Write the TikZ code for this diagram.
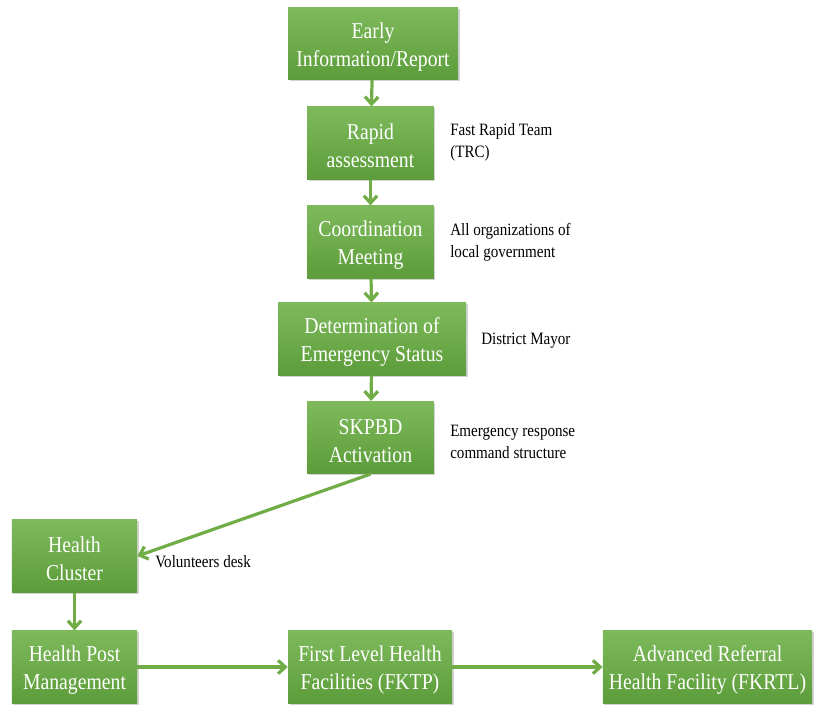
\documentclass[tikz,border=0pt]{standalone}
\usepackage{fontspec}
\setmainfont{Liberation Serif}
\newfontfamily\narrowserif[FakeStretch=0.87]{Liberation Serif}
\usetikzlibrary{arrows.meta,shadows}
\definecolor{boxtop}{HTML}{7EBA5C}
\definecolor{boxbot}{HTML}{5C9C3A}
\definecolor{flowgreen}{HTML}{70AD47}

\begin{document}
\begin{tikzpicture}[x=0.75pt, y=-0.75pt,
    stepbox/.style={draw=none, top color=boxtop, bottom color=boxbot,
        text=white, align=center, minimum height=54.5pt, inner sep=1pt,
        font=\narrowserif\fontsize{17}{21}\selectfont,
        execute at begin node={\rule{0pt}{37.5pt}},
        drop shadow={shadow xshift=1.2pt, shadow yshift=-1.2pt, opacity=0.35}},
    note/.style={anchor=west, align=left, inner sep=0pt,
        font=\narrowserif\fontsize{13}{16.5}\selectfont},
    flow/.style={draw=flowgreen, line width=2.4pt,
        -{Straight Barb[length=5.5pt, width=10pt]}}]
    \useasboundingbox (0,0) rectangle (814,704);

    % main column
    \node[stepbox, minimum width=127.5pt] (early) at (373,43.5) {Early\\Information/Report};
    \node[stepbox, minimum width=95pt] (rapid) at (370.5,143) {Rapid\\assessment};
    \node[stepbox, minimum width=95pt] (coord) at (370.5,242) {Coordination\\Meeting};
    \node[stepbox, minimum width=141pt] (status) at (372,339) {Determination of\\Emergency Status};
    \node[stepbox, minimum width=95pt] (skpbd) at (370.5,437.5) {SKPBD\\Activation};

    % bottom row
    \node[stepbox, minimum width=94pt] (cluster) at (74.5,556) {Health\\Cluster};
    \node[stepbox, minimum width=94pt] (post) at (74.5,667) {Health Post\\Management};
    \node[stepbox, minimum width=123pt] (fktp) at (370,667) {First Level Health\\Facilities (FKTP)};
    \node[stepbox, minimum width=157pt] (fkrtl) at (707.5,667) {Advanced Referral\\Health Facility (FKRTL)};

    % side notes
    \node[note] (trc) at (450,142) {Fast Rapid Team\\(TRC)};
    \node[note] (orgs) at (450,242) {All organizations of\\local government};
    \node[note] (mayor) at (481,341) {District Mayor};
    \node[note] (cmd) at (450,442) {Emergency response\\command structure};
    \node[note] (desk) at (155,562) {Volunteers desk};

    \draw[flow] (early) -- (rapid);
    \draw[flow] (rapid) -- (coord);
    \draw[flow] (coord) -- (status);
    \draw[flow] (status) -- (skpbd);
    \draw[flow] (skpbd.south) -- (cluster.east);
    \draw[flow] (cluster) -- (post);
    \draw[flow] (post) -- (fktp);
    \draw[flow] (fktp) -- (fkrtl);
\end{tikzpicture}
\end{document}
